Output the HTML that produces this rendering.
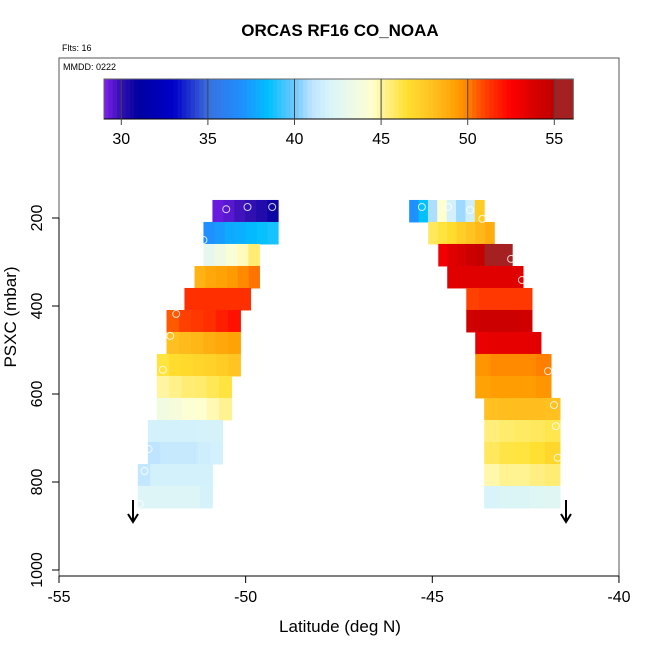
<!DOCTYPE html>
<html><head><meta charset="utf-8"><style>
html,body{margin:0;padding:0;background:#fff;}
svg{display:block;font-family:"Liberation Sans",sans-serif;}
</style></head><body>
<svg id="chart" width="650" height="650" viewBox="0 0 650 650">
<text x="340" y="36" text-anchor="middle" font-size="17" font-weight="bold">ORCAS RF16 CO_NOAA</text>
<text x="62" y="51" font-size="9">Flts: 16</text>
<g id="cells"></g>
<g id="cbar"></g>
<rect x="59" y="58" width="560" height="518" fill="none" stroke="#555" stroke-width="1"/>
<text x="63" y="70" font-size="9">MMDD: 0222</text>
<g id="axes"></g>
<text x="340" y="632" text-anchor="middle" font-size="17">Latitude (deg N)</text>
<text transform="translate(16,317) rotate(-90)" text-anchor="middle" font-size="17">PSXC (mbar)</text>
<g stroke="#000" stroke-width="2" fill="none"><line x1="133" y1="500" x2="133" y2="521"/><polyline points="128,514 133,522 138,514"/></g>
<g stroke="#000" stroke-width="2" fill="none"><line x1="566" y1="500" x2="566" y2="521"/><polyline points="561,514 566,522 571,514"/></g>
</svg>
<script>
const xTicks=[-55,-50,-45,-40];
const yTicks=[200,400,600,800,1000];
const cbTicks=[30,35,40,45,50,55];
const rowTopP=[159,209,259,309,359,409,459,509,559,609,659,709,759,809];
const leftStart=[-50.89,-51.13,-51.13,-51.37,-51.64,-52.12,-52.12,-52.38,-52.38,-52.38,-52.62,-52.62,-52.89,-52.89];
const leftEnd=[-49.13,-49.13,-49.63,-49.63,-49.87,-50.14,-50.14,-50.14,-50.38,-50.38,-50.62,-50.62,-50.89,-50.89];
const leftVals=[[29.3,29.5,29.8,30,30.3,30.7],[37,37.3,37.8,38,38.3,38.6,38.8],[42.8,43.5,44.2,44.7,45.6],[48.5,49,49.2,49.5,49.8,50.2],[51.4,51.4,51.4,51.4,51.4,51.4],[50.6,51,51.2,51.4,51.8,52.1],[48,48.2,48.4,48.7,49,49.2],[46.3,46.7,46.8,47,47.2,47.5,47.8],[45,45.3,45.6,45.7,46,46.3],[43.6,43.9,44.3,44.5,44.8,45.2],[41.8,41.8,41.8,41.8,41.9,41.9],[41,41.3,41.3,41.3,41.6,41.8],[41.2,41.8,41.8,41.8,41.8,41.8],[42.3,42.3,42.3,42.3,42.3,41.9]];
const rightStart=[-45.62,-45.11,-44.84,-44.6,-44.09,-44.09,-43.85,-43.85,-43.85,-43.61,-43.61,-43.61,-43.61,-43.61];
const rightEnd=[-43.61,-43.34,-42.86,-42.57,-42.33,-42.33,-42.09,-41.82,-41.82,-41.58,-41.58,-41.58,-41.58,-41.58];
const rightVals=[[37,38.5,40.8,44.5,41.8,40.6,41.6,47.5],[45.9,46.3,46.7,47.3,47.8,48.3,48.8],[53,53.5,53.8,54.3,54.8,55.2,55.5,55.9],[53.5,53.5,53.5,53.5,53.5,53.5],[51,51.2,51.2,51.2,51.2],[54.2,54.3,54.3,54.3,54.1],[53.2,53.3,53.3,53.3,53.4],[49.6,49.8,49.8,49.8,50],[49.2,49.4,49.4,49.4,49.6],[48,48.1,48.1,48.1,48],[45.5,45.7,45.8,45.9,46.1],[45.9,46.2,46.3,46.5,46.9],[44.9,45.2,45.2,45.4,45.6],[42,42.2,42.2,42.4,42.5]];
const circLat=[-50.52,-49.95,-49.29,-51.13,-51.86,-52.02,-52.22,-52.60,-52.71,-52.84,-45.28,-44.58,-43.99,-43.66,-42.89,-42.6,-41.9,-41.74,-41.69,-41.64];
const circP=[180,175,175,250,418,468,545,725,775,850,175,175,182,202,293,341,548,625,673,745];

function xs(l){return 59+(l+55)*37.33;}
function ys(p){return 570-(1000-p)*0.44;}
const stops=[[29,[128,32,240]],[30,[48,16,176]],[31,[0,0,160]],[33,[0,0,200]],[34.5,[48,80,210]],[35,[56,112,224]],[37,[30,144,255]],[38.5,[0,192,255]],[40,[112,200,255]],[41,[190,228,255]],[42,[216,244,250]],[43,[232,248,236]],[44.5,[255,255,208]],[45,[255,245,160]],[46.5,[255,224,48]],[48,[255,192,32]],[49.5,[255,154,0]],[50,[255,128,0]],[51,[255,64,0]],[52.5,[255,0,0]],[54,[210,0,0]],[55,[192,0,0]],[55.1,[165,32,32]],[56.2,[165,32,32]]];
function col(v){if(v<=stops[0][0])return 'rgb('+stops[0][1]+')';for(let i=1;i<stops.length;i++){if(v<=stops[i][0]){const a=stops[i-1],b=stops[i];const t=(v-a[0])/(b[0]-a[0]);const c=a[1].map((x,k)=>Math.round(x+(b[1][k]-x)*t));return 'rgb('+c+')';}}return 'rgb('+stops[stops.length-1][1]+')';}
const NS='http://www.w3.org/2000/svg';
function mk(tag,attrs,parent){const e=document.createElementNS(NS,tag);for(const k in attrs)e.setAttribute(k,attrs[k]);parent.appendChild(e);return e;}
const cells=document.getElementById('cells');
function drawSide(st,en,vals,side){
 for(let r=0;r<rowTopP.length;r++){
  const x0=xs(st[r]),x1=xs(en[r]),n=vals[r].length,w=(x1-x0)/n;
  const y0=ys(rowTopP[r]),y1=ys(rowTopP[r]+50);
  for(let i=0;i<n;i++){
   const e=mk('rect',{x:x0+i*w,y:y0,width:w+0.5,height:y1-y0+0.5,fill:col(vals[r][i])},cells);
   
   
  }
 }
}
drawSide(leftStart,leftEnd,leftVals,'left');
drawSide(rightStart,rightEnd,rightVals,'right');
for(let i=0;i<circLat.length;i++){
 const c=mk('circle',{cx:xs(circLat[i]),cy:ys(circP[i]),r:3.5,fill:'none',stroke:'#fff','stroke-width':1,opacity:0.8},cells);
 
 
}
const cb=document.getElementById('cbar');
function cx(v){return 121.3+(v-30)*17.32;}
for(let v=29;v<56.1;v+=0.25){
 const r=mk('rect',{x:cx(v),y:79,width:Math.min(17.32*0.25+0.4,cx(56.1)-cx(v)),height:40,fill:col(v+0.125)},cb);
 
 
}
const cbf=mk('rect',{x:cx(29),y:79,width:cx(56.1)-cx(29),height:40,fill:'none',stroke:'#666'},cb);


const cbb=mk('line',{x1:cx(29),y1:119,x2:cx(56.1),y2:119,stroke:'#000'},cb);


cbTicks.forEach(v=>{
 const l=mk('line',{x1:cx(v),y1:79,x2:cx(v),y2:125,stroke:'#444','stroke-width':1},cb);
 
 
 const t=mk('text',{x:cx(v),y:144,'text-anchor':'middle','font-size':16},cb);
 t.textContent=v;
 
 
});
const ax=document.getElementById('axes');
const xa=mk('line',{x1:xs(-55),y1:576,x2:xs(-40),y2:576,stroke:'#000'},ax);


xTicks.forEach(v=>{
 const l=mk('line',{x1:xs(v),y1:576,x2:xs(v),y2:583,stroke:'#000'},ax);
 
 
 const t=mk('text',{x:xs(v),y:602,'text-anchor':'middle','font-size':16},ax);
 t.textContent=v;
 
 
});
const ya=mk('line',{x1:59,y1:ys(200),x2:59,y2:ys(1000),stroke:'#000'},ax);


yTicks.forEach(v=>{
 const l=mk('line',{x1:52,y1:ys(v),x2:59,y2:ys(v),stroke:'#000'},ax);
 
 
 const t=mk('text',{'text-anchor':'middle','font-size':16,transform:'translate(42,'+ys(v)+') rotate(-90)'},ax);
 t.textContent=v;
 
 
});
</script>
</body></html>
